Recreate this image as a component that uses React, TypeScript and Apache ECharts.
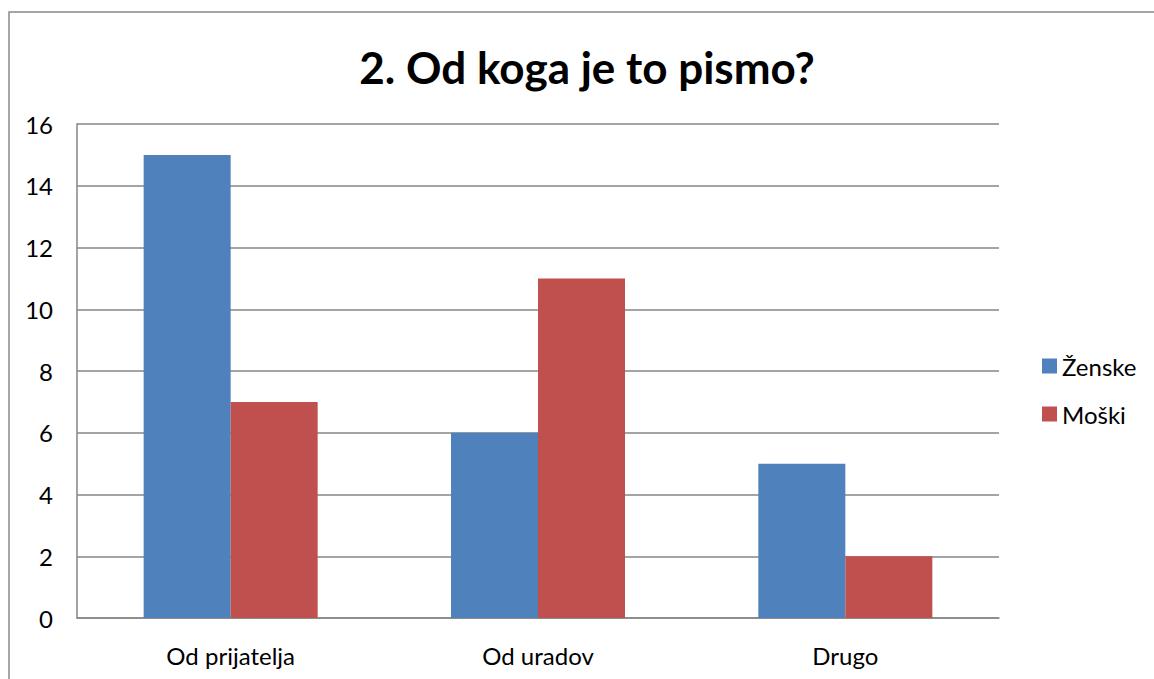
import React, { useEffect, useRef } from "react";
import * as echarts from "echarts";

const categories = ["Od prijatelja", "Od uradov", "Drugo"];
const zenske = [15, 6, 5];
const moski = [7, 11, 2];
const seriesNames = ["Ženske", "Moški"];
const titleText = "2. Od koga je to pismo?";

export default function App() {
  const ref = useRef<HTMLDivElement>(null);
  useEffect(() => {
    const chart = echarts.init(ref.current!, null, { renderer: "svg" });
    const font = "Lato, 'Noto Sans', sans-serif";
    chart.setOption({
      animation: false,
      backgroundColor: "#ffffff",
      title: {
        text: titleText,
        left: 587,
        top: 45,
        padding: 0,
        textAlign: "center",
        textStyle: { fontFamily: font, fontSize: 44, fontWeight: "bold", color: "#000" },
      },
      graphic: [
        {
          type: "rect",
          shape: { x: 9, y: 12, width: 1160, height: 700 },
          style: { fill: "none", stroke: "#888888", lineWidth: 1.5 },
          silent: true,
        },
      ],
      legend: {
        orient: "vertical",
        left: 1042,
        top: 354,
        padding: 0,
        itemWidth: 15,
        itemHeight: 15,
        itemGap: 24,
        icon: "rect",
        textStyle: { fontFamily: font, fontSize: 24, color: "#000", padding: [0, 0, 0, 0] },
        data: seriesNames,
      },
      grid: { left: 77, right: 155, top: 124, bottom: 61, containLabel: false },
      xAxis: {
        type: "category",
        data: categories,
        axisLine: { show: true, lineStyle: { color: "#868686", width: 1.5 } },
        axisTick: { show: false },
        axisLabel: { fontFamily: font, fontSize: 24, color: "#000", margin: 25 },
      },
      yAxis: {
        type: "value",
        min: 0,
        max: 16,
        interval: 2,
        axisLine: { show: true, lineStyle: { color: "#868686", width: 1.5 } },
        axisTick: { show: false },
        splitLine: { show: true, lineStyle: { color: "#868686", width: 1.5 } },
        axisLabel: { fontFamily: font, fontSize: 24, color: "#000", margin: 24 },
      },
      series: [
        {
          name: seriesNames[0],
          type: "bar",
          data: zenske,
          barWidth: 87,
          barGap: "0%",
          itemStyle: { color: "#4F81BD" },
        },
        {
          name: seriesNames[1],
          type: "bar",
          data: moski,
          barWidth: 87,
          barGap: "0%",
          itemStyle: { color: "#C0504D" },
        },
      ],
    });
    return () => chart.dispose();
  }, []);
  return (
    <div
      ref={ref}
      style={{ position: "absolute", left: 0, top: 0, width: 1154, height: 679 }}
    />
  );
}
